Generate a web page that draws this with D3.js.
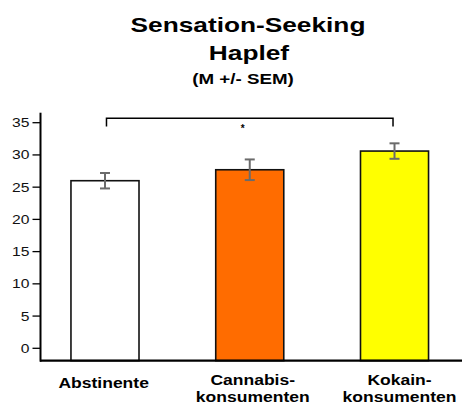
<!DOCTYPE html>
<html>
<head>
<meta charset="utf-8">
<script src="https://cdn.jsdelivr.net/npm/d3@7"></script>
<style>
  html, body { margin: 0; padding: 0; background: #fff; }
  svg { display: block; font-family: "Liberation Sans", Arial, sans-serif; }
</style>
</head>
<body>
<svg id="chart" width="462" height="406"></svg>
<script>
// Group labels (line-broken) and their mean scores with standard errors
const groups = ["Abstinente", "Cannabis-\nkonsumenten", "Kokain-\nkonsumenten"];
const means = [26.0, 27.7, 30.6];
const sems = [1.2, 1.6, 1.2];
const barColors = ["#ffffff", "#ff6c00", "#ffff00"];
const yTicks = [0, 5, 10, 15, 20, 25, 30, 35];
const titleLines = ["Sensation-Seeking", "Haplef", "(M +/- SEM)"];
const sigLabel = "*";

const svg = d3.select("#chart");

const y = d3.scaleLinear().domain([0, 35]).range([348.3, 122.7]);
const yBottom = -1.92, yTop = 36.55;

const x = d3.scaleBand()
  .domain(groups)
  .range([32.6, 466.9])
  .paddingInner(0.53)
  .paddingOuter(0.265);

// Text in this chart is set wide; stretch each string horizontally
function wideText(sel, str, size, weight, anchorX, baseY, stretch) {
  const t = sel.append("text")
    .attr("font-size", size)
    .attr("font-weight", weight)
    .attr("fill", "#000")
    .text(str);
  t.attr("x", 0).attr("y", 0);
  const w = t.node().getComputedTextLength() * stretch;
  t.attr("text-anchor", "middle")
   .attr("x", anchorX)
   .attr("y", baseY)
   .attr("textLength", w)
   .attr("lengthAdjust", "spacingAndGlyphs");
  return t;
}

// Title
const titleG = svg.append("g");
wideText(titleG, titleLines[0], 21, "bold", 248, 32, 1.25);
wideText(titleG, titleLines[1], 21, "bold", 249, 60, 1.25);
wideText(titleG, titleLines[2], 15, "bold", 243, 84, 1.25);

// Bars
svg.append("g").selectAll("rect")
  .data(means)
  .join("rect")
  .attr("x", (d, i) => x(groups[i]))
  .attr("width", x.bandwidth())
  .attr("y", d => y(d))
  .attr("height", d => y(yBottom) - y(d))
  .attr("fill", (d, i) => barColors[i])
  .attr("stroke", "#111")
  .attr("stroke-width", 1.6);

// Error bars
const eg = svg.append("g").attr("stroke", "#6b6b6b").attr("stroke-width", 2);
means.forEach((m, i) => {
  const cx = x(groups[i]) + x.bandwidth() / 2;
  eg.append("line").attr("x1", cx).attr("x2", cx)
    .attr("y1", y(m + sems[i])).attr("y2", y(m - sems[i]));
  [m + sems[i], m - sems[i]].forEach(v => {
    eg.append("line").attr("x1", cx - 5).attr("x2", cx + 5)
      .attr("y1", y(v)).attr("y2", y(v));
  });
});

// Significance bracket between first and last group
const bx1 = x(groups[0]) + x.bandwidth() / 2 + 1.5;
const bx2 = x(groups[2]) + x.bandwidth() / 2 - 1.5;
const bTop = y(35.7), bEnd = y(34.4);
svg.append("path")
  .attr("d", `M${bx1},${bEnd}V${bTop}H${bx2}V${bEnd}`)
  .attr("fill", "none")
  .attr("stroke", "#000")
  .attr("stroke-width", 1.5);
svg.append("text")
  .attr("x", (bx1 + bx2) / 2 - 7)
  .attr("y", y(33.5))
  .attr("text-anchor", "middle")
  .attr("font-size", 10)
  .attr("font-weight", "bold")
  .text(sigLabel);

// Y axis
const yAxis = svg.append("g");
yAxis.append("line")
  .attr("x1", 40.5).attr("x2", 40.5)
  .attr("y1", y(yTop)).attr("y2", y(yBottom) + 1)
  .attr("stroke", "#000").attr("stroke-width", 2);
yTicks.forEach(v => {
  yAxis.append("line")
    .attr("x1", 32.5).attr("x2", 40.5)
    .attr("y1", y(v)).attr("y2", y(v))
    .attr("stroke", "#000").attr("stroke-width", 1.3);
  const t = yAxis.append("text")
    .attr("font-size", 12.5)
    .attr("fill", "#111")
    .text(v);
  const w = t.node().getComputedTextLength() * 1.25;
  t.attr("x", 29.5 - w).attr("y", y(v) + 4.5)
   .attr("textLength", w).attr("lengthAdjust", "spacingAndGlyphs");
});

// X axis
svg.append("line")
  .attr("x1", 40).attr("x2", 462)
  .attr("y1", y(yBottom)).attr("y2", y(yBottom))
  .attr("stroke", "#000").attr("stroke-width", 2.2);

// Category labels
const lg = svg.append("g");
const labelOffsets = [-1.3, 3, 5];
groups.forEach((g, i) => {
  const lines = g.split("\n");
  const cx = x(g) + x.bandwidth() / 2 + labelOffsets[i];
  if (lines.length === 1) {
    wideText(lg, lines[0], 14, "bold", cx, 388, 1.25);
  } else {
    lines.forEach((ln, j) => wideText(lg, ln, 14, "bold", cx, 385 + j * 17, 1.25));
  }
});
</script>
</body>
</html>
